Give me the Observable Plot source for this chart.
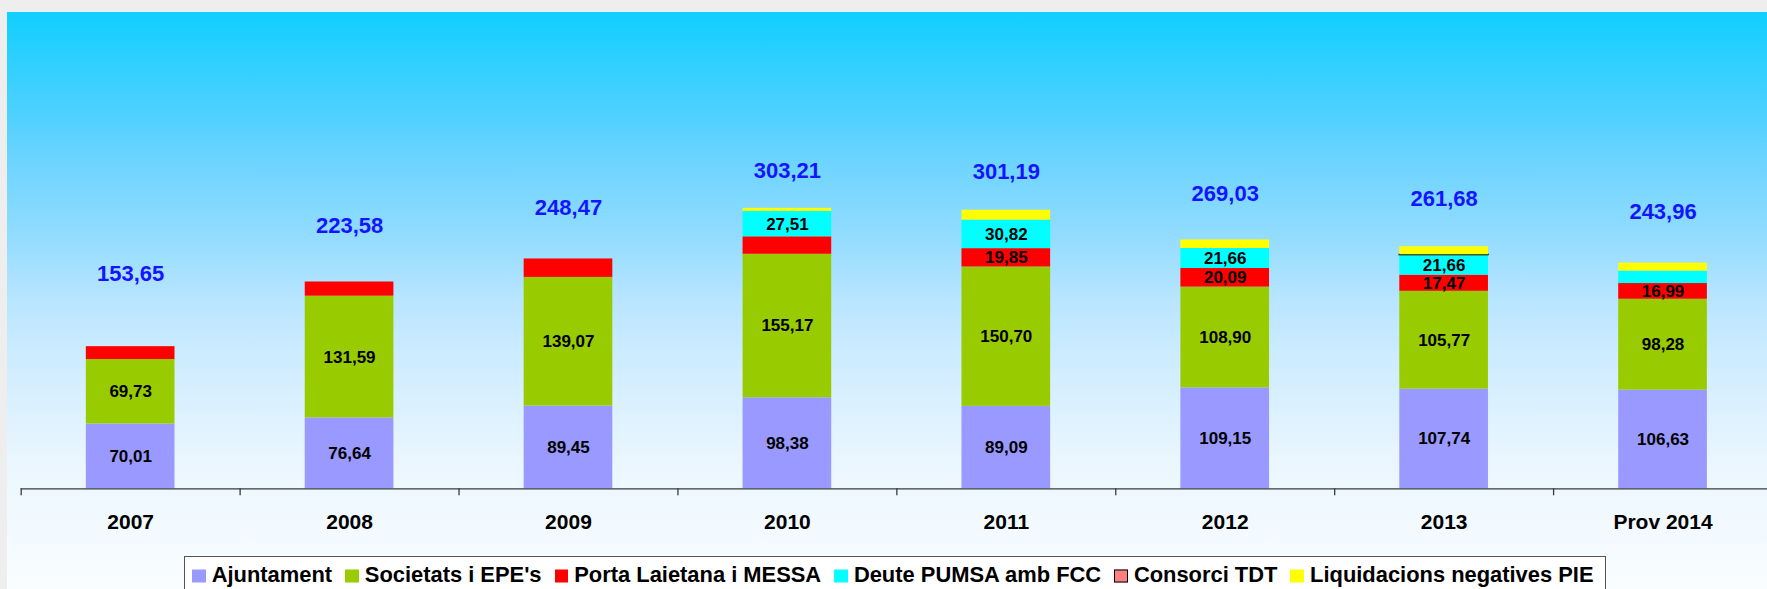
<!DOCTYPE html>
<html>
<head>
<meta charset="utf-8">
<script src="https://cdn.jsdelivr.net/npm/d3@7"></script>
<script src="https://cdn.jsdelivr.net/npm/@observablehq/plot@0.6"></script>
<style>
  html, body { margin: 0; padding: 0; overflow: hidden; background: #eeeeee; width: 1767px; height: 589px; }
  #panel {
    position: absolute; left: 7px; top: 12px; width: 1765px; height: 577px; overflow: hidden;
    background: linear-gradient(to bottom,
      #10cfff 0%, #4fd0ff 17.9%, #67d3ff 23.9%, #8fdbff 37.8%, #b8e5ff 49.9%,
      #cbebff 58.6%, #eaf6ff 77.6%, #fafdff 100%);
    font-family: "Liberation Sans", Arial, Helvetica, sans-serif;
  }
  #chart svg { display: block; }
  .legend {
    margin-left: 177px; margin-top: 8px; width: 1422px; height: 40px; box-sizing: border-box;
    border: 1.3px solid #555; background: #ffffff;
    display: flex; align-items: center; padding-left: 7px; padding-bottom: 3px;
    font-weight: bold; font-size: 21.9px; color: #000; white-space: nowrap;
  }
  .legend .item { display: flex; align-items: center; margin-right: 13px; }
  .legend .sw { width: 13.7px; height: 13.7px; margin-right: 6px; box-sizing: border-box; transform: translateY(1.5px); }
</style>
</head>
<body>
<div id="panel">
  <div id="chart"></div>
  <div class="legend" id="legend"></div>
</div>
<script>
// ---- data ----
const years = ["2007", "2008", "2009", "2010", "2011", "2012", "2013", "Prov 2014"];
const seriesNames = ["Ajuntament", "Societats i EPE's", "Porta Laietana i MESSA", "Deute PUMSA amb FCC", "Consorci TDT", "Liquidacions negatives PIE"];
const seriesColors = ["#9999ff", "#99cc00", "#ff0000", "#00ffff", "#ff8080", "#ffff00"];

const ajuntament    = [70.01, 76.64, 89.45, 98.38, 89.09, 109.15, 107.74, 106.63];
const societats     = [69.73, 131.59, 139.07, 155.17, 150.70, 108.90, 105.77, 98.28];
const portaLaietana = [13.91, 15.35, 19.95, 18.85, 19.85, 20.09, 17.47, 16.99];
const deutePumsa    = [0, 0, 0, 27.51, 30.82, 21.66, 21.66, 13.46];
const consorciTdt   = [0, 0, 0, 0, 0, 0, 0.3, 0];
const liquidacions  = [0, 0, 0, 3.30, 10.73, 9.23, 8.74, 8.60];
const totals        = [153.65, 223.58, 248.47, 303.21, 301.19, 269.03, 261.68, 243.96];

// which segment values carry a printed label
const labelAjuntament = [true, true, true, true, true, true, true, true];
const labelSocietats  = [true, true, true, true, true, true, true, true];
const labelPorta      = [false, false, false, false, true, true, true, true];
const labelDeute      = [false, false, false, true, true, true, true, false];
const labelTdt        = [false, false, false, false, false, false, false, false];
const labelLiq        = [false, false, false, false, false, false, false, false];

const seriesValues = [ajuntament, societats, portaLaietana, deutePumsa, consorciTdt, liquidacions];
const seriesLabels = [labelAjuntament, labelSocietats, labelPorta, labelDeute, labelTdt, labelLiq];

const fmt = v => d3.format(".2f")(v).replace(".", ",");

const rows = [];
years.forEach((yr, i) => {
  seriesNames.forEach((s, k) => {
    rows.push({year: yr, series: s, value: seriesValues[k][i], color: seriesColors[k],
               label: seriesLabels[k][i] ? fmt(seriesValues[k][i]) : ""});
  });
});
const totalRows = years.map((yr, i) => ({year: yr, total: totals[i]}));

// ---- layout ----
const W = 1765, H = 536;
const mL = 13.7, mR = 0, mT = 13.8, mB = 59.7;
const step = (W - mL - mR) / years.length;
const pxPerUnit = (H - mT - mB) / 500;
// total labels sit on a level that grows with the total
const labelLevel = t => 0.743 * t + 118.5;

const chart = Plot.plot({
  width: W, height: H,
  marginLeft: mL, marginRight: mR, marginTop: mT, marginBottom: mB,
  style: {background: "transparent", overflow: "visible", fontFamily: '"Liberation Sans", Arial, Helvetica, sans-serif'},
  x: {type: "band", domain: years, paddingInner: 0.595, paddingOuter: 0.2975, round: false, axis: null},
  y: {domain: [0, 500], axis: null},
  marks: [
    Plot.barY(rows, Plot.stackY({
      x: "year", y: "value", fill: "color",
      stroke: d => d.series === "Consorci TDT" && d.value > 0 ? "#000" : "none",
      strokeWidth: 1.4
    })),
    Plot.text(rows, Plot.stackY({
      x: "year", y: "value", text: "label",
      fontSize: 17, fontWeight: "bold", fill: "#000"
    })),
    Plot.text(totalRows, {
      x: "year", y: d => labelLevel(d.total), text: d => fmt(d.total),
      fontSize: 22, fontWeight: "bold", fill: "#1414ff"
    }),
    Plot.ruleY([0], {stroke: "#3a3a3a", strokeWidth: 1.3}),
    Plot.ruleX(years, {x: d => d, dx: -step / 2, y1: 0, y2: -7 / pxPerUnit, stroke: "#3a3a3a", strokeWidth: 1.3}),
    Plot.text(years, {x: d => d, y: 0, dy: 33, text: d => d, fontSize: 21, fontWeight: "bold", fill: "#000"})
  ]
});
document.getElementById("chart").appendChild(chart);

// ---- legend ----
const legend = document.getElementById("legend");
seriesNames.forEach((s, k) => {
  const item = document.createElement("span");
  item.className = "item";
  const sw = document.createElement("span");
  sw.className = "sw";
  sw.style.background = seriesColors[k];
  if (s === "Consorci TDT") sw.style.border = "1.5px solid #000";
  const tx = document.createElement("span");
  tx.textContent = s;
  item.appendChild(sw);
  item.appendChild(tx);
  legend.appendChild(item);
});
</script>
</body>
</html>
